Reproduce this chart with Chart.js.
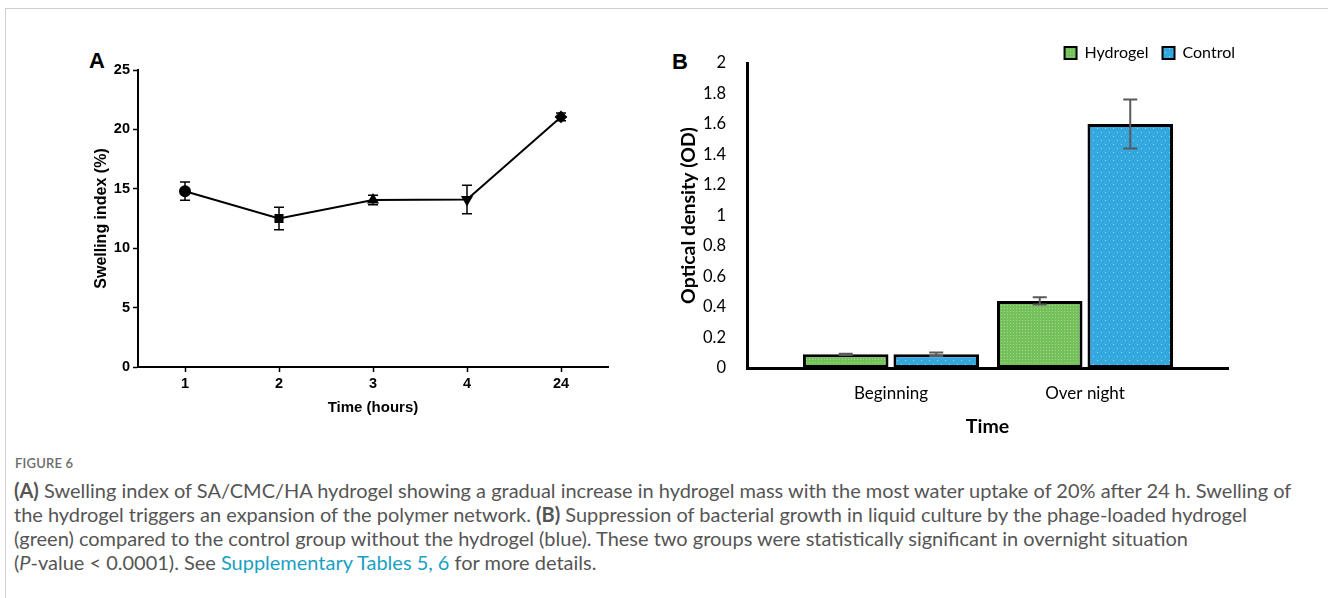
<!DOCTYPE html>
<html>
<head>
<meta charset="utf-8">
<script src="https://cdn.jsdelivr.net/npm/chart.js@4.4.1/dist/chart.umd.min.js"></script>
<style>
  body { margin: 0; width: 1328px; height: 598px; background: #fff; position: relative; overflow: hidden; }
  .frame { position: absolute; left: 5px; top: 8px; width: 1330px; height: 600px; border-top: 1px solid #cfcfcf; border-left: 1px solid #cfcfcf; }
  .tag { position: absolute; font: bold 22px "Liberation Sans", Arial, sans-serif; line-height: 24px; color: #000; }
  #tagA { left: 89px; top: 49px; }
  #tagB { left: 672px; top: 50px; }
  canvas { position: absolute; }
  #chartA { left: 92px; top: 40px; }
  #chartB { left: 677px; top: 20px; }
  #figno { position: absolute; left: 15px; top: 455px; font: 600 13px Lato, sans-serif; color: #6b6b6b; letter-spacing: 0.2px; }
  #caption { position: absolute; left: 14px; top: 478px; font-family: Lato, sans-serif; font-size: 16px; line-height: 24px; color: #555; }
  #caption div { white-space: nowrap; }
  #caption a { color: #1a9fc3; text-decoration: none; }
</style>
</head>
<body>
<div class="frame"></div>
<div class="tag" id="tagA">A</div>
<canvas id="chartA" width="536" height="377"></canvas>
<div class="tag" id="tagB">B</div>
<canvas id="chartB" width="571" height="418"></canvas>
<div id="figno">FIGURE 6</div>
<div id="caption">
  <div><span id="line1"><b>(A)</b> Swelling index of SA/CMC/HA hydrogel showing a gradual increase in hydrogel mass with the most water uptake of 20% after 24 h. Swelling of</span></div>
  <div>the hydrogel triggers an expansion of the polymer network. <b>(B)</b> Suppression of bacterial growth in liquid culture by the phage-loaded hydrogel</div>
  <div>(green) compared to the control group without the hydrogel (blue). These two groups were statistically significant in overnight situation</div>
  <div>(<i>P</i>-value &lt; 0.0001). See <a>Supplementary Tables 5, 6</a> for more details.</div>
</div>
<script>
// Panel A - swelling index
var timeLabels = ['1', '2', '3', '4', '24'];
var swelling = [14.8, 12.5, 14.05, 14.1, 21.05];
var swellingErr = [0.77, 0.94, 0.4, 1.2, 0.33];
var markerStyles = ['circle', 'rect', 'triangle', 'triangle', 'rectRot'];
var markerTurns = [0, 0, 0, 180, 0];

// Panel B - optical density
var groups = ['Beginning', 'Over night'];
var hydrogelOD = [0.09, 0.44];
var hydrogelErr = [0.004, 0.024];
var controlOD = [0.09, 1.60];
var controlErr = [0.012, 0.16];

var fontA = "'Liberation Sans', Arial, sans-serif";
var fontB = "Lato, 'Open Sans', sans-serif";

// error bars, drawn through the y scale of the chart
function drawErrors(chart, opts) {
  var ctx = chart.ctx;
  var y = chart.scales.y;
  ctx.save();
  ctx.strokeStyle = opts.color;
  ctx.lineWidth = opts.width;
  chart.data.datasets.forEach(function (ds, d) {
    if (!ds.errors) return;
    chart.getDatasetMeta(d).data.forEach(function (el, i) {
      var v = typeof ds.data[i] === 'object' ? ds.data[i].y : ds.data[i];
      var top = y.getPixelForValue(v + ds.errors[i]);
      var bot = y.getPixelForValue(v - ds.errors[i]);
      ctx.beginPath();
      ctx.moveTo(el.x, top); ctx.lineTo(el.x, bot);
      ctx.moveTo(el.x - opts.cap, top); ctx.lineTo(el.x + opts.cap, top);
      ctx.moveTo(el.x - opts.cap, bot); ctx.lineTo(el.x + opts.cap, bot);
      ctx.stroke();
    });
  });
  ctx.restore();
}

var errorBars = {
  id: 'errorBars',
  beforeDatasetsDraw: function (chart, args, opts) { if (opts.behind) drawErrors(chart, opts); },
  afterDatasetsDraw: function (chart, args, opts) { if (!opts.behind) drawErrors(chart, opts); }
};

// legend sits just above the plot, ending a bit past the axis
var legendPlace = {
  id: 'legendPlace',
  afterLayout: function (chart, args, opts) {
    var lg = chart.legend;
    var pad = lg.options.labels.padding;
    var dx = opts.right - (lg.right - pad);
    var dy = opts.middle - (lg.top + pad + lg.options.labels.font.size / 2);
    lg.left += dx; lg.right += dx;
    lg.top += dy; lg.bottom += dy;
  }
};

// dotted fills like the original bars
function dotted(base, dot, step) {
  var c = document.createElement('canvas');
  c.width = step; c.height = step;
  var g = c.getContext('2d');
  g.fillStyle = base;
  g.fillRect(0, 0, step, step);
  g.fillStyle = dot;
  g.fillRect(0, 0, 1, 1);
  if (step > 4) g.fillRect(step / 2, step / 2, 1, 1);
  return g.createPattern(c, 'repeat');
}

new Chart(document.getElementById('chartA'), {
  type: 'line',
  data: {
    labels: timeLabels,
    datasets: [{
      data: swelling,
      errors: swellingErr,
      borderColor: '#000',
      borderWidth: 2,
      tension: 0,
      pointStyle: markerStyles,
      pointRotation: markerTurns,
      pointRadius: 5,
      pointBackgroundColor: '#000',
      pointBorderColor: '#000',
      clip: false
    }]
  },
  options: {
    responsive: false,
    animation: false,
    layout: { padding: { top: 30, right: 20, left: 0, bottom: 0 } },
    plugins: {
      legend: { display: false },
      tooltip: { enabled: false },
      errorBars: { color: '#000', width: 1.5, cap: 5, behind: true }
    },
    scales: {
      x: {
        offset: true,
        afterFit: function (s) { s.height = 50; },
        border: { color: '#000', width: 2 },
        grid: { drawOnChartArea: false, tickLength: 5, tickColor: '#000', tickWidth: 1.5 },
        ticks: { color: '#000', padding: 3, font: { family: fontA, size: 14.5, weight: 'bold' } },
        title: { display: true, text: 'Time (hours)', color: '#000', padding: 0, font: { family: fontA, size: 15, weight: 'bold' } }
      },
      y: {
        min: 0, max: 25,
        afterFit: function (s) { s.width = 46; },
        border: { color: '#000', width: 2 },
        grid: { drawOnChartArea: false, tickLength: 5, tickColor: '#000', tickWidth: 1.5 },
        ticks: { stepSize: 5, color: '#000', padding: 3, font: { family: fontA, size: 14.5, weight: 'bold' } },
        title: { display: true, text: 'Swelling index (%)', color: '#000', padding: 0, font: { family: fontA, size: 16, weight: 'bold' } }
      }
    }
  },
  plugins: [errorBars]
});

var ctxB = document.getElementById('chartB').getContext('2d');
var greenFill = dotted('#74c15c', '#a5d991', 3);
var blueFill = dotted('#32a8df', '#9ad8f3', 8);

new Chart(ctxB, {
  type: 'bar',
  data: {
    datasets: [{
      label: 'Hydrogel',
      data: hydrogelOD.map(function (v, i) { return { x: i, y: v }; }),
      errors: hydrogelErr,
      backgroundColor: greenFill,
      borderColor: '#000',
      borderWidth: 3,
      borderSkipped: false
    }, {
      label: 'Control',
      data: controlOD.map(function (v, i) { return { x: i, y: v }; }),
      errors: controlErr,
      backgroundColor: blueFill,
      borderColor: '#000',
      borderWidth: 3,
      borderSkipped: false
    }]
  },
  options: {
    responsive: false,
    animation: false,
    categoryPercentage: 0.933,
    barPercentage: 0.945,
    layout: { padding: { top: 3, right: 20, left: 0, bottom: 0 } },
    plugins: {
      legend: {
        position: 'top',
        align: 'end',
        labels: {
          color: '#000',
          boxWidth: 12,
          boxHeight: 12,
          padding: 14,
          font: { family: fontB, size: 16 },
          generateLabels: function (chart) {
            var items = Chart.defaults.plugins.legend.labels.generateLabels(chart);
            items.forEach(function (it) { it.lineWidth = 2; });
            return items;
          }
        }
      },
      tooltip: { enabled: false },
      errorBars: { color: '#5a5a5a', width: 2, cap: 7, behind: false },
      legendPlace: { right: 558, middle: 33 }
    },
    scales: {
      x: {
        type: 'linear',
        min: -0.742, max: 1.737,
        bounds: 'data',
        offset: false,
        afterBuildTicks: function (s) { s.ticks = groups.map(function (g, i) { return { value: i }; }); },
        afterFit: function (s) { s.height = 70; },
        border: { color: '#000', width: 3 },
        grid: { display: false, drawTicks: false },
        ticks: {
          color: '#000', padding: 15, maxRotation: 0, autoSkip: false,
          font: { family: fontB, size: 17 },
          callback: function (v) { return groups[v]; }
        },
        title: { display: true, text: 'Time', color: '#000', padding: 0, font: { family: fontB, size: 19.5, weight: 'bold' } }
      },
      y: {
        min: 0, max: 2,
        afterFit: function (s) { s.width = 70; },
        border: { color: '#000', width: 3 },
        grid: { display: false, drawTicks: false },
        ticks: {
          stepSize: 0.2, color: '#000', padding: 21,
          font: { family: fontB, size: 16.5 },
          callback: function (v) { return String(Math.round(v * 10) / 10); }
        },
        title: { display: true, text: 'Optical density (OD)', color: '#000', padding: 0, font: { family: fontB, size: 19.5, weight: 'bold' } }
      }
    }
  },
  plugins: [errorBars, legendPlace]
});

// caption: fit first line to the width of the original
var first = document.getElementById('line1');
var cap = document.getElementById('caption');
cap.style.fontSize = (16 * 1278 / first.getBoundingClientRect().width) + 'px';
</script>
</body>
</html>
